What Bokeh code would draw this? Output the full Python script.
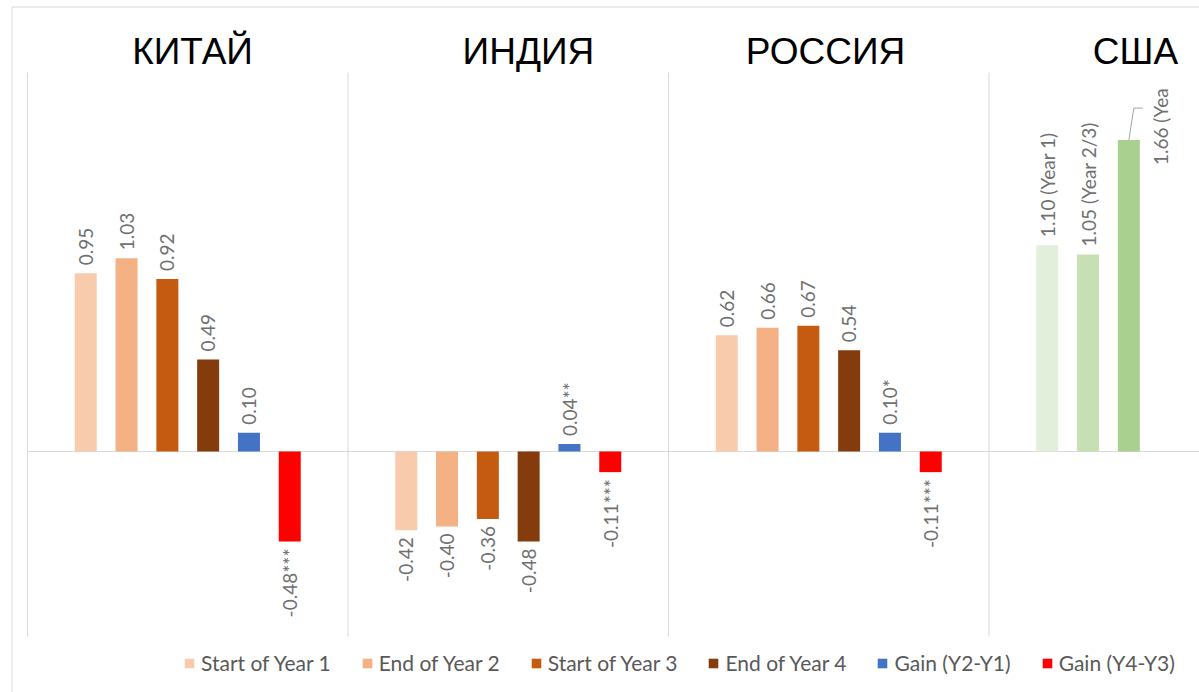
import math
from bokeh.plotting import figure
from bokeh.models import ColumnDataSource, Legend, LegendItem
from bokeh.core.properties import value
from bokeh.embed import file_html
from bokeh.resources import INLINE

# ---------------- data ----------------
countries = ["КИТАЙ", "ИНДИЯ", "РОССИЯ", "США"]
series_names = ["Start of Year 1", "End of Year 2", "Start of Year 3",
                "End of Year 4", "Gain (Y2-Y1)", "Gain (Y4-Y3)"]
start_y1 = [0.95, -0.42, 0.62]
end_y2 = [1.03, -0.40, 0.66]
start_y3 = [0.92, -0.36, 0.67]
end_y4 = [0.49, -0.48, 0.54]
gain_y2_y1 = [0.10, 0.04, 0.10]
gain_y4_y3 = [-0.48, -0.11, -0.11]
stars_y2_y1 = ["", "**", "*"]
stars_y4_y3 = ["***", "***", "***"]
usa_values = [1.10, 1.05, 1.66]
usa_labels = ["1.10 (Year 1)", "1.05 (Year 2/3)", "1.66 (Yea"]

# ---------------- styles ----------------
series_colors = ["#f8cbad", "#f4b183", "#c55a11", "#843c0c", "#4472c4", "#ff0000"]
usa_colors = ["#e2efda", "#c6e0b4", "#a9d08e"]
label_color = "#707070"
grid_color = "#d9d9d9"
label_font = "Lato"
title_font = "Liberation Sans"

W, H = 1199, 692
PX_X, PX_Y = 320.5, 187.6   # pixels per panel / per unit value
slot = 40.8 / PX_X          # spacing between bars inside a panel
bar_w = 22 / PX_X
x_start, x_end = -27 / PX_X, (W - 27) / PX_X
y_start, y_end = (451 - H) / PX_Y, 451 / PX_Y
panel_top, panel_bottom = 2.02, -0.986
title_x = [0.515, 1.563, 2.49, 3.457]
title_y = 2.1322

p = figure(width=W, height=H, x_range=(x_start, x_end), y_range=(y_start, y_end),
           x_axis_type=None, y_axis_type=None, toolbar_location=None,
           output_backend="svg", min_border=0, outline_line_color=None,
           background_fill_color="white", border_fill_color="white")

# frame decorations
p.segment(x0=[0, 1, 2, 3], y0=[panel_bottom] * 4, x1=[0, 1, 2, 3], y1=[panel_top] * 4,
          line_color=grid_color, line_width=1)
p.segment(x0=[0], y0=[0], x1=[4], y1=[0], line_color=grid_color, line_width=1)
bx = x_start + 11.5 / PX_X
by = y_end - 6.5 / PX_Y
p.segment(x0=[bx], y0=[y_start], x1=[bx], y1=[by], line_color=grid_color, line_width=1)
p.segment(x0=[bx], y0=[by], x1=[x_end], y1=[by], line_color=grid_color, line_width=1)

all_series = [start_y1, end_y2, start_y3, end_y4, gain_y2_y1, gain_y4_y3]
all_stars = [[""] * 3, [""] * 3, [""] * 3, [""] * 3, stars_y2_y1, stars_y4_y3]

renderers = []
pos = dict(x=[], y=[], t=[])
neg = dict(x=[], y=[], t=[])
for j, (vals, stars, col) in enumerate(zip(all_series, all_stars, series_colors)):
    xs = [i + 0.5 + (j - 2.5) * slot for i in range(len(vals))]
    src = ColumnDataSource(dict(x=xs, top=vals))
    r = p.vbar(x="x", top="top", bottom=0, width=bar_w, source=src,
               fill_color=col, line_color=None)
    renderers.append(r)
    for x, v, s in zip(xs, vals, stars):
        d = pos if v >= 0 else neg
        d["x"].append(x)
        d["y"].append(v)
        d["t"].append(f"{v:.2f}{s}")

# USA
usa_x = [3 + 0.5 + (j - 2.5) * slot for j in range(len(usa_values))]
p.vbar(x=usa_x, top=usa_values, bottom=0, width=bar_w, fill_color=usa_colors, line_color=None)
for x, v, t in zip(usa_x[:2], usa_values[:2], usa_labels[:2]):
    pos["x"].append(x)
    pos["y"].append(v)
    pos["t"].append(t)

p.text(x="x", y="y", text="t", source=ColumnDataSource(pos), angle=math.pi / 2,
       text_align="left", text_baseline="middle", y_offset=-8,
       text_font=value(label_font), text_font_size="19px", text_color=label_color)
p.text(x="x", y="y", text="t", source=ColumnDataSource(neg), angle=math.pi / 2,
       text_align="right", text_baseline="middle", y_offset=7,
       text_font=value(label_font), text_font_size="19px", text_color=label_color)

# moved label for the third USA bar, with leader line
ux, uv = usa_x[2], usa_values[2]
p.line(x=[ux, ux + 5 / PX_X, ux + 14 / PX_X], y=[uv, uv + 32 / PX_Y, uv + 32 / PX_Y],
       line_color="#a6a6a6", line_width=1)
p.text(x=[ux], y=[uv], text=[usa_labels[2]], angle=math.pi / 2, x_offset=32, y_offset=25,
       text_align="left", text_baseline="middle",
       text_font=value(label_font), text_font_size="19px", text_color=label_color)

# panel titles
p.text(x=title_x, y=[title_y] * 4, text=countries, text_align="center",
       text_baseline="alphabetic", text_font=value(title_font),
       text_font_size="37px", text_color="black")

legend = Legend(items=[LegendItem(label=n, renderers=[r]) for n, r in zip(series_names, renderers)],
                orientation="horizontal", location=(183, 17), padding=0, margin=0,
                spacing=30, glyph_width=12, glyph_height=12, label_height=12,
                label_standoff=6, border_line_color=None, background_fill_alpha=0,
                label_text_font=label_font, label_text_font_size="21px",
                label_text_color="#595959")
p.add_layout(legend)

open("out.html", "w").write(file_html(p, INLINE))
